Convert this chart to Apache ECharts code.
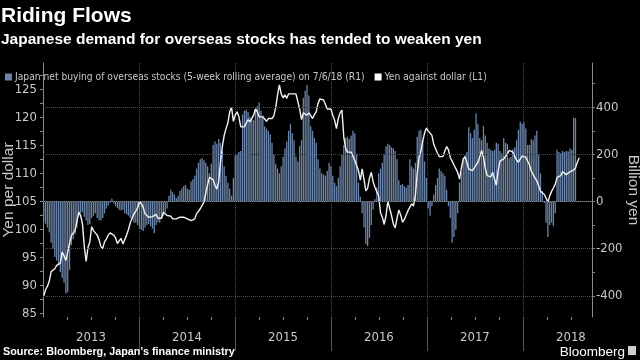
<!DOCTYPE html>
<html><head><meta charset="utf-8">
<script src="https://cdn.jsdelivr.net/npm/echarts@6/dist/echarts.min.js"></script>
<style>html,body{margin:0;padding:0;background:#000;}#c{width:640px;height:360px;}</style>
</head><body><div id="c"></div>
<script>
// ---- data ----
const years = [2013, 2014, 2015, 2016, 2017, 2018];
const leftTickLabels = [85, 90, 95, 100, 105, 110, 115, 120, 125];
const rightTickLabels = [-400, -200, 0, 200, 400];
const firstWeek = '2013-01-04'; // weekly observations
const barName = 'Japan net buying of overseas stocks (5-week rolling average) on 7/6/18 (R1)';
const lineName = 'Yen against dollar (L1)';
// billion yen, weekly
const netBuying = [
 -87,-95,-110,-130,-175,-200,-235,-250,-270,-300,
 -325,-345,-390,-385,-290,-185,-160,-140,-110,-65,
 -50,-45,-65,-80,-100,-95,-70,-60,-50,-70,
 -78,-80,-70,-50,-30,-18,-5,12,-8,-20,
 -28,-35,-38,-35,-50,-55,-60,-70,-75,-90,
 -90,-100,-115,-120,-125,-110,-100,-95,-105,-115,
 -135,-100,-88,-90,-72,-60,-45,-30,25,50,
 40,30,15,25,45,55,65,70,55,50,
 85,95,110,140,165,180,185,175,165,150,
 120,160,240,255,245,265,250,215,150,110,
 80,55,25,100,195,200,210,215,370,385,
 390,380,360,350,345,390,405,420,385,365,
 320,310,300,285,250,200,160,140,120,150,
 190,225,255,300,330,290,260,190,170,235,
 260,440,470,495,450,320,300,270,250,180,
 140,120,115,110,130,165,150,110,80,65,
 100,150,200,240,270,275,265,280,300,290,
 200,80,20,-50,-110,-180,-190,-155,-100,-35,
 10,60,120,140,165,200,235,245,240,230,
 225,215,180,90,70,75,65,60,70,180,
 150,140,165,275,300,305,260,170,100,-30,
 -60,-20,30,70,100,140,130,120,110,50,
 -20,-70,-175,-150,-120,-50,80,125,180,195,
 210,315,290,270,305,375,330,270,260,320,
 280,250,225,220,215,220,250,245,215,205,
 270,250,245,185,190,222,230,260,305,340,
 330,335,310,240,240,265,260,280,300,200,
 120,45,-5,-90,-150,-100,-90,-105,-50,220,
 210,205,215,210,215,212,225,220,355,355
];
// yen per dollar, weekly
const yenPerDollar = [
 88.2,89.3,89.9,90.8,92.5,92.8,93.0,93.6,93.5,94.0,
 96.0,95.3,94.5,94.2,97.5,98.9,99.4,99.8,101.5,103.1,
 102.5,101.0,97.0,94.3,96.8,97.8,100.5,99.8,100.0,99.0,
 98.2,97.0,96.6,97.8,98.3,99.0,99.4,99.3,99.0,98.5,
 97.5,98.0,98.4,97.4,97.7,99.0,100.0,101.2,102.0,102.8,
 103.3,103.9,105.0,104.6,104.0,102.8,102.5,102.2,102.0,102.3,
 102.4,102.7,102.0,102.2,102.0,103.1,103.4,102.5,102.2,102.4,
 101.9,101.7,101.9,101.9,102.2,102.5,102.2,102.0,101.9,102.2,
 101.6,101.4,101.9,102.8,102.5,103.7,104.3,104.9,106.5,108.0,
 109.3,109.5,108.9,107.9,107.2,108.5,112.0,114.8,116.8,118.0,
 119.0,121.0,121.8,119.3,120.4,121.0,120.1,118.3,118.0,118.3,
 119.0,119.6,119.2,119.0,120.4,121.5,121.0,120.1,119.8,120.1,
 120.2,119.3,119.8,120.1,119.8,120.3,121.8,124.0,125.8,124.2,
 123.5,124.0,123.4,124.2,124.5,124.2,124.5,124.2,124.4,121.5,
 119.6,120.8,120.7,120.4,120.8,120.3,119.8,120.5,121.0,122.5,
 123.3,123.0,123.1,123.3,121.5,121.2,121.5,120.4,119.5,118.0,
 119.8,120.8,121.3,116.5,114.5,113.8,114.0,113.8,113.9,112.3,
 112.5,110.5,108.8,110.8,109.0,106.9,107.4,109.2,110.2,108.5,
 107.5,107.2,106.0,103.0,102.2,100.9,102.5,105.0,103.8,102.5,
 101.0,100.3,102.0,103.5,102.6,101.3,101.8,102.6,103.4,104.0,
 104.6,104.2,106.1,110.0,112.8,114.0,115.8,117.2,118.1,117.6,
 117.2,116.8,115.2,115.0,113.6,113.0,112.8,113.0,114.0,114.8,
 114.2,112.8,112.2,111.5,111.3,110.2,109.0,111.0,112.6,113.0,
 112.0,110.8,111.0,110.5,110.8,111.5,112.0,113.0,114.1,113.0,
 110.9,109.6,109.3,109.4,110.2,110.0,107.9,110.5,112.2,112.2,
 112.6,112.9,113.5,114.1,114.2,113.8,113.0,112.4,112.0,112.6,
 113.1,112.9,112.9,112.6,111.5,110.4,110.5,109.2,108.7,107.8,
 106.8,106.5,106.3,106.0,104.9,106.0,106.8,107.4,108.1,109.3,
 109.6,109.6,110.3,110.5,109.8,110.0,110.3,110.5,110.6,111.0,
 112.0,112.8
];

// ---- helpers ----
const DAY = 86400000;
const start = Date.parse(firstWeek + 'T00:00:00Z');
function weekPos(i) {
  const ms = start + i * 7 * DAY;
  const y = new Date(ms).getUTCFullYear();
  const a = Date.UTC(y, 0, 1), b = Date.UTC(y + 1, 0, 1);
  return y + (ms - a) / (b - a);
}
const barData = netBuying.map((v, i) => [weekPos(i), v]);
const lineData = yenPerDollar.map((v, i) => [weekPos(i), v]);

const X_MIN = years[0], X_MAX = 2018.72;
const quarterTicks = [];
years.forEach(y => [0.25, 0.5, 0.75].forEach(q => { if (y + q < X_MAX) quarterTicks.push(y + q); }));
const leftMinor = [];
for (let v = leftTickLabels[0]; v <= 127.5; v += 2.5) leftMinor.push(v);
const rightMinor = [];
for (let v = -400; v <= 500; v += 100) rightMinor.push(v);

const narrow = "'Liberation Sans Narrow','DejaVu Sans Condensed',sans-serif";
const sans = "'Liberation Sans',Arial,sans-serif";
const axisCol = '#8a8a8a', labCol = '#c8c8c8', gridCol = '#4a4a4a';
const barCol = '#6b84a9';

const chart = echarts.init(document.getElementById('c'), null, {renderer: 'canvas'});
chart.setOption({
  backgroundColor: '#000',
  animation: false,
  title: [
    {text: 'Riding Flows', left: 1, top: 6, padding: 0, textStyle: {color: '#fff', fontSize: 21, fontWeight: 'bold', fontFamily: sans}},
    {text: 'Japanese demand for overseas stocks has tended to weaken yen', left: 1, top: 32, padding: 0, textStyle: {color: '#fff', fontSize: 15.5, fontWeight: 'bold', fontFamily: sans}},
    {text: "Source: Bloomberg, Japan's finance ministry", left: 3, top: 347, padding: 0, textStyle: {color: '#fff', fontSize: 10.8, fontWeight: 'bold', fontFamily: sans}},
    {text: 'Bloomberg', right: 15, top: 345, padding: 0, textStyle: {color: '#fff', fontSize: 13.5, fontWeight: 'normal', fontFamily: sans}}
  ],
  graphic: [{type: 'rect', right: 4, top: 346, shape: {width: 8, height: 9}, style: {fill: '#d0d0d0'}}],
  legend: {
    left: 5, top: 72, padding: 0, itemWidth: 7, itemHeight: 7, itemGap: 10, icon: 'rect',
    textStyle: {color: labCol, fontSize: 10.2, fontFamily: narrow, padding: [0, 0, 0, -2]},
    data: [barName, {name: lineName, itemStyle: {color: '#fff'}}]
  },
  grid: {left: 43, right: 48, top: 63, bottom: 43, containLabel: false, outerBoundsMode: 'none'},
  xAxis: [
    {type: 'value', min: X_MIN, max: X_MAX, interval: 1, position: 'bottom',
     axisLine: {show: true, lineStyle: {color: axisCol}}, axisTick: {show: false}, axisLabel: {show: false},
     splitLine: {show: true, lineStyle: {color: gridCol, type: 'dotted'}}},
    {type: 'value', min: X_MIN, max: X_MAX, position: 'bottom', offset: 0,
     axisLine: {show: false},
     axisTick: {show: true, length: 34, customValues: years.slice(1), lineStyle: {color: '#555'}},
     axisLabel: {show: false}, splitLine: {show: false}},
    {type: 'value', min: X_MIN, max: X_MAX, position: 'bottom', offset: 0,
     axisLine: {show: false},
     axisTick: {show: true, length: 3, customValues: quarterTicks, lineStyle: {color: axisCol}},
     axisLabel: {show: true, customValues: years.map(y => y + 0.5), formatter: v => String(Math.floor(v)),
       color: labCol, fontSize: 13, fontFamily: narrow, margin: 14},
     splitLine: {show: false}}
  ],
  yAxis: [
    {type: 'value', position: 'left', min: 84.4, max: 129.7,
     name: 'Yen per dollar', nameLocation: 'middle', nameGap: 26, nameRotate: 90, nameMoveOverlap: false,
     nameTextStyle: {color: labCol, fontSize: 15.5, fontFamily: sans},
     axisLine: {show: true, lineStyle: {color: axisCol}},
     axisTick: {show: true, length: 3, customValues: leftMinor, lineStyle: {color: axisCol}},
     axisLabel: {customValues: leftTickLabels, color: labCol, fontSize: 13, fontFamily: narrow, margin: 6},
     splitLine: {show: false}},
    {type: 'value', position: 'right', min: -490, max: 588,
     name: 'Billion yen', nameLocation: 'middle', nameGap: 33, nameRotate: -90, nameMoveOverlap: false,
     nameTextStyle: {color: labCol, fontSize: 15.5, fontFamily: sans},
     axisLine: {show: true, lineStyle: {color: axisCol}},
     axisTick: {show: true, length: 3, customValues: rightMinor, lineStyle: {color: axisCol}},
     axisLabel: {customValues: rightTickLabels, color: labCol, fontSize: 13, fontFamily: narrow, margin: 4},
     splitLine: {show: false}}
  ],
  series: [
    {name: barName, type: 'bar', xAxisIndex: 0, yAxisIndex: 1, data: barData, barWidth: 1.3,
     itemStyle: {color: barCol},
     markLine: {silent: true, symbol: 'none', label: {show: false},
       lineStyle: {color: gridCol, type: 'dotted', width: 1},
       data: rightTickLabels.map(v => ({yAxis: v}))}},
    {name: lineName, type: 'line', xAxisIndex: 0, yAxisIndex: 0, data: lineData, showSymbol: false,
     symbol: 'none', lineStyle: {color: '#f2f2f2', width: 1.4}, itemStyle: {color: '#fff'}, z: 3}
  ]
});
</script></body></html>
